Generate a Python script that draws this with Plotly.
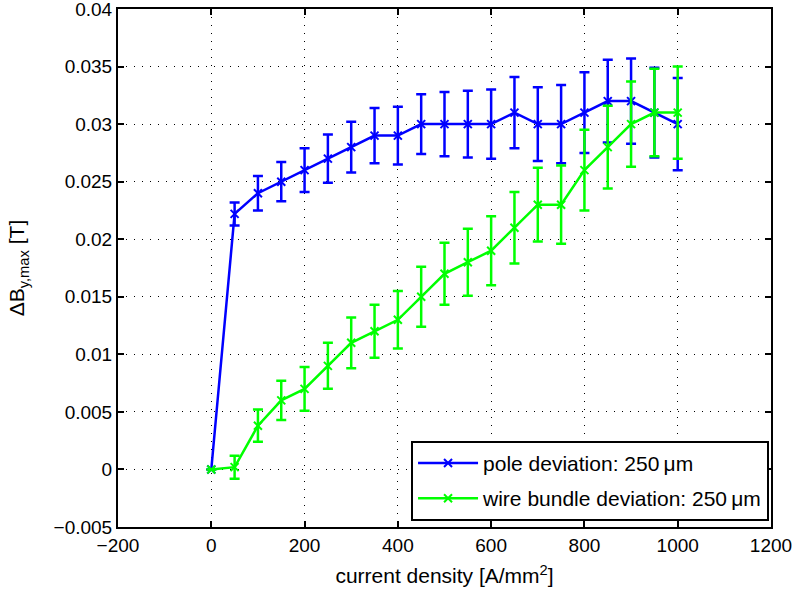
import plotly.graph_objects as go

current_density = [0, 50, 100, 150, 200, 250, 300, 350, 400, 450, 500,
                   550, 600, 650, 700, 750, 800, 850, 900, 950, 1000]

pole_dev = [0, 0.0222, 0.024, 0.025, 0.026, 0.027, 0.028, 0.029, 0.029, 0.030, 0.030,
            0.030, 0.030, 0.031, 0.030, 0.030, 0.031, 0.032, 0.032, 0.031, 0.030]
pole_err = [0, 0.001, 0.0015, 0.0017, 0.0019, 0.0021, 0.0022, 0.0024, 0.0025, 0.0026, 0.0028,
            0.0029, 0.0030, 0.0031, 0.0032, 0.0034, 0.0035, 0.0036, 0.0037, 0.0039, 0.0040]

wire_dev = [0, 0.0002, 0.0038, 0.006, 0.007, 0.009, 0.011, 0.012, 0.013, 0.015, 0.017,
            0.018, 0.019, 0.021, 0.023, 0.023, 0.026, 0.028, 0.030, 0.031, 0.031]
wire_err = [0, 0.001, 0.0014, 0.0017, 0.0019, 0.0020, 0.0022, 0.0023, 0.0025, 0.0026, 0.0027,
            0.0029, 0.0030, 0.0031, 0.0032, 0.0034, 0.0035, 0.0036, 0.0037, 0.0038, 0.0040]

x_ticks = [-200, 0, 200, 400, 600, 800, 1000, 1200]
y_ticks = [-0.005, 0, 0.005, 0.01, 0.015, 0.02, 0.025, 0.03, 0.035, 0.04]
y_tick_labels = ["\u22120.005", "0", "0.005", "0.01", "0.015", "0.02", "0.025", "0.03", "0.035", "0.04"]
x_tick_labels = ["\u2212200", "0", "200", "400", "600", "800", "1000", "1200"]

FONT = "Liberation Sans, Arial, sans-serif"
FS = 19
FT = 21

fig = go.Figure()
for i, (name, y, e, col) in enumerate([
    ("pole deviation: 250\u2009\u03bcm", pole_dev, pole_err, "#0000ff"),
    ("wire bundle deviation: 250\u2009\u03bcm", wire_dev, wire_err, "#00ff00"),
]):
    fig.add_trace(go.Scatter(
        x=current_density, y=y, name=name, mode="lines+markers",
        legendgroup=f"g{i}",
        line=dict(color=col, width=2.5),
        marker=dict(symbol="x-thin", size=8, line=dict(color=col, width=2)),
        error_y=dict(type="data", array=e, visible=True, color=col, thickness=2.5, width=5),
    ))

axis_common = dict(
    showline=True, linecolor="black", linewidth=2, mirror="ticks",
    ticks="inside", ticklen=6, tickwidth=2, tickcolor="black",
    showgrid=True, gridcolor="black", gridwidth=1, griddash="1px,7px",
    zeroline=False, automargin=False, ticklabeloverflow="allow",
    tickfont=dict(family=FONT, size=FS, color="black"),
)

fig.update_xaxes(range=[-200, 1200], tickvals=x_ticks, ticktext=x_tick_labels,
                 title=dict(text="current density [A/mm<sup>2</sup>]",
                            font=dict(family=FONT, size=FT, color="black"), standoff=14),
                 **axis_common)
fig.update_yaxes(range=[-0.005, 0.04], tickvals=y_ticks, ticktext=y_tick_labels,
                 title=dict(text="\u0394B<sub>y,max</sub> [T]",
                            font=dict(family=FONT, size=FT, color="black"), standoff=23),
                 **axis_common)

fig.update_layout(
    width=801, height=594,
    margin=dict(l=118, r=30, t=9, b=67),
    plot_bgcolor="white", paper_bgcolor="white",
    font=dict(family=FONT, size=FS, color="black"),
    legend=dict(x=0.997, y=0.012, xanchor="right", yanchor="bottom",
                bgcolor="white", bordercolor="black", borderwidth=2,
                font=dict(family=FONT, size=FT, color="black"),
                itemwidth=60, tracegroupgap=5),
    showlegend=True,
)

fig.write_html("out.html")
